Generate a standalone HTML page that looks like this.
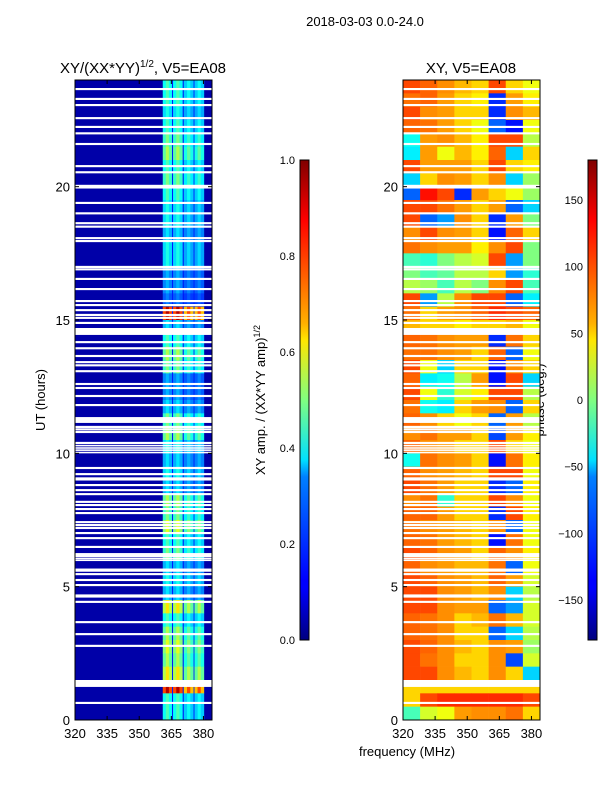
<!DOCTYPE html>
<html><head><meta charset="utf-8">
<style>
body{margin:0;background:#fff;}
svg{display:block;font-family:"Liberation Sans","DejaVu Sans",sans-serif;}
</style></head>
<body>
<svg id="fig" width="600" height="800" viewBox="0 0 600 800">
<defs>
<linearGradient id="jetg" x1="0" y1="1" x2="0" y2="0">
<stop offset="0" stop-color="#00007f"/><stop offset="0.11" stop-color="#0000ff"/>
<stop offset="0.125" stop-color="#0000ff"/><stop offset="0.34" stop-color="#0080ff"/>
<stop offset="0.375" stop-color="#00e0ff"/><stop offset="0.5" stop-color="#80ff80"/>
<stop offset="0.625" stop-color="#ffe600"/><stop offset="0.66" stop-color="#ffb000"/>
<stop offset="0.875" stop-color="#ff0000"/><stop offset="1" stop-color="#800000"/>
</linearGradient>
</defs>
<text x="365" y="26" font-size="13" text-anchor="middle">2018-03-03 0.0-24.0</text>
<text x="143" y="73" font-size="15" text-anchor="middle">XY/(XX*YY)<tspan font-size="10" dy="-6">1/2</tspan><tspan dy="6">, V5=EA08</tspan></text>
<text x="471" y="73" font-size="15" text-anchor="middle">XY, V5=EA08</text>
<text transform="translate(45,400) rotate(-90)" font-size="13" text-anchor="middle">UT (hours)</text>
<text transform="translate(265,400) rotate(-90)" font-size="13" text-anchor="middle">XY amp. / (XX*YY amp)<tspan font-size="9" dy="-5">1/2</tspan></text>
<text transform="translate(544,400) rotate(-90)" font-size="13" text-anchor="middle">phase (deg.)</text>
<text x="407" y="756" font-size="13" text-anchor="middle">frequency (MHz)</text>
<g id="ampPanel"></g>
<g id="phasePanel"></g>
<g id="axes"></g>
<rect x="300" y="160" width="9" height="480" fill="url(#jetg)" stroke="#000" stroke-width="1"/>
<rect x="588" y="160" width="9" height="480" fill="url(#jetg)" stroke="#000" stroke-width="1"/>
</svg>
<script>
// ---- data ----
const freqMin = 320, freqMax = 384;
const xTicks = [320, 335, 350, 365, 380];
const yTicks = [0, 5, 10, 15, 20];
const ampTicks = [0.0, 0.2, 0.4, 0.6, 0.8, 1.0];
const phaseTicks = [-150, -100, -50, 0, 50, 100, 150];
// half-hour rows from 24h (top) down to 0h
const bandAmp = [0.45,0.45,0.4,0.45,0.5,0.55,0.45,0.5,0.45,0.4,0.4,0.35,0.4,0.4,0.3,0.3,0.25,0.95,0.35,0.45,0.55,0.5,0.3,0.3,
0.35,0.5,0.55,0.4,0.35,0.4,0.35,0.55,0.5,0.6,0.45,0.5,0.35,0.4,0.35,0.65,0.45,0.55,0.6,0.55,0.65,0.95,0.45,0.45];
const bands = [[361,365.3],[365.8,370.3],[370.8,375.4],[375.8,380.2]];
const bandMult = [1.0, 1.0, 0.85, 0.85];
const bgAmp = 0.04, gapAmp = 0.15;
// white (flagged) rows: [start hour, end hour]
const blanks = [[23.62,23.7],[23.25,23.33],[23.02,23.1],[22.53,22.61],[22.2,22.28],[21.96,22.04],[21.56,21.64],[20.73,20.81],[20.5,20.58],
[19.93,20.07],[19.35,19.43],[18.96,19.04],[18.59,18.67],[18.46,18.54],[18.03,18.11],[17.92,18.0],[16.95,17.03],[16.86,16.94],[16.5,16.58],
[16.12,16.2],[15.67,15.75],[15.52,15.6],[15.33,15.41],[15.15,15.23],[15.04,15.12],[14.85,14.93],[14.44,14.7],[14.13,14.21],[13.9,13.98],
[13.61,13.69],[13.38,13.46],[13.26,13.34],[13.04,13.12],[12.56,12.64],[12.41,12.49],[12.11,12.19],[11.77,11.85],[11.14,11.36],[10.95,11.03],
[10.86,10.94],[10.76,10.84],[10.35,10.43],[10.26,10.32],[10.17,10.23],[10.09,10.15],[10.0,10.06],[9.41,9.49],[9.18,9.26],[8.98,9.1],
[8.77,8.85],[8.58,8.66],[8.43,8.51],[8.14,8.22],[8.02,8.1],[7.87,7.95],[7.72,7.8],[7.38,7.46],[7.27,7.35],[7.16,7.24],[6.97,7.05],
[6.78,6.86],[6.45,6.53],[6.18,6.26],[6.11,6.19],[6.03,6.09],[5.96,6.02],[5.56,5.68],[5.43,5.51],[5.21,5.29],[5.02,5.1],[4.59,4.71],
[4.39,4.47],[3.63,3.71],[3.18,3.26],[2.74,2.82],[1.24,1.5],[0.6,0.68]];
// phase grid: 48 half-hour rows (24h -> 0h) x 8 columns of 8 MHz
const phaseCols = [320,328,336,344,352,360,368,376];
const phaseRows = [
[110,100,85,70,60,110,60,40],[95,100,80,60,50,-120,80,50],[110,85,80,60,60,-120,85,70],[100,95,80,60,40,-100,-130,40],
[-40,80,85,70,50,110,110,20],[-50,80,40,70,50,100,-60,60],[110,80,80,80,60,110,60,50],[-60,60,85,80,60,85,-60,10],
[-100,130,110,-120,80,60,40,10],[110,110,95,80,60,80,-100,-60],[110,-100,-80,85,60,-120,80,0],[85,110,85,80,60,-130,100,60],
[95,85,80,80,50,85,110,0],[-20,-30,0,20,30,110,-80,0],[0,-20,-10,20,20,60,-80,-30],[20,10,-20,20,0,85,110,-20],
[110,-80,20,85,110,110,-100,-50],[95,60,80,85,100,120,110,100],[70,60,60,50,60,60,70,40],[100,95,85,80,80,-120,95,60],
[95,95,85,80,60,100,-100,40],[110,40,-60,60,60,-130,85,60],[100,-50,-40,20,80,-130,110,-60],[110,40,-30,30,50,110,110,20],
[95,-40,-50,60,80,85,-100,60],[100,85,60,40,60,-100,80,20],[85,95,80,80,60,-110,80,50],[100,85,80,60,60,110,60,40],
[-40,95,85,80,60,-130,95,50],[100,85,80,70,60,110,110,40],[110,95,80,60,60,-120,-100,50],[85,95,-30,60,60,110,85,40],
[100,100,80,60,60,-120,110,50],[95,85,80,70,60,85,-100,40],[100,95,80,70,60,-130,95,40],[110,100,85,80,60,100,85,50],
[100,85,80,70,70,95,-100,40],[110,100,85,80,70,100,80,30],[110,110,85,80,70,85,-60,20],[110,110,85,80,80,-100,-80,30],
[100,95,85,60,70,95,70,30],[100,95,85,60,60,-100,-60,20],[110,100,85,70,60,85,80,10],[110,95,85,60,60,85,-110,30],
[110,110,85,70,60,85,60,-60],[60,60,60,60,60,60,60,60],[60,110,120,120,120,120,120,110],[-20,30,40,80,85,85,95,60]];

// ---- scales ----
const NS = "http://www.w3.org/2000/svg";
const panels = {amp:{x0:75,x1:212}, ph:{x0:403,x1:540}};
const yTop = 80, yBot = 720;
function xs(p, f){ return p.x0 + (f - freqMin) / (freqMax - freqMin) * (p.x1 - p.x0); }
function ys(h){ return yBot - h / 24 * (yBot - yTop); }
function jet(v){
  v = Math.max(0, Math.min(1, v));
  const c = t => Math.round(255 * Math.max(0, Math.min(1, 1.5 - Math.abs(4 * v - t))));
  return `rgb(${c(3)},${c(2)},${c(1)})`;
}
function rect(parent, x, y, w, h, fill){
  const r = document.createElementNS(NS, "rect");
  r.setAttribute("x", x); r.setAttribute("y", y);
  r.setAttribute("width", w); r.setAttribute("height", h);
  r.setAttribute("fill", fill);
  parent.appendChild(r); return r;
}
function line(parent, x1, y1, x2, y2){
  const l = document.createElementNS(NS, "line");
  l.setAttribute("x1", x1); l.setAttribute("y1", y1); l.setAttribute("x2", x2); l.setAttribute("y2", y2);
  l.setAttribute("stroke", "#000"); l.setAttribute("stroke-width", 1);
  parent.appendChild(l); return l;
}
function text(parent, x, y, s, anchor){
  const t = document.createElementNS(NS, "text");
  t.setAttribute("x", x); t.setAttribute("y", y); t.setAttribute("font-size", 13);
  t.setAttribute("text-anchor", anchor); t.textContent = s;
  parent.appendChild(t); return t;
}

// ---- amplitude heatmap ----
const ampG = document.getElementById("ampPanel");
const PA = panels.amp;
const bg = rect(ampG, PA.x0, yTop, PA.x1 - PA.x0, yBot - yTop, jet(bgAmp));


const nRows = bandAmp.length, rowH = 24 / nRows;
bandAmp.forEach((a, i) => {
  const hTop = 24 - i * rowH, hBot = hTop - rowH;
  bands.forEach((b, j) => {
    const w = (b[1] - b[0]) / 3;
    [0.85, 1.0, 0.85].forEach((m, k) => {
      const r = rect(ampG, xs(PA, b[0] + k * w), ys(hTop), xs(PA, b[0] + (k + 1) * w) - xs(PA, b[0] + k * w) + 0.3, ys(hBot) - ys(hTop) + 0.3, jet(a * bandMult[j] * m));
      
      
    });
    if (j < bands.length - 1) {
      const g = rect(ampG, xs(PA, b[1]), ys(hTop), xs(PA, bands[j + 1][0]) - xs(PA, b[1]), ys(hBot) - ys(hTop) + 0.3, jet(gapAmp));
      
      
    }
  });
});

// ---- phase heatmap ----
const phG = document.getElementById("phasePanel");
const PP = panels.ph;
const pRowH = 24 / phaseRows.length;
phaseRows.forEach((row, i) => {
  const hTop = 24 - i * pRowH, hBot = hTop - pRowH;
  row.forEach((p, j) => {
    const f0 = phaseCols[j], f1 = j + 1 < phaseCols.length ? phaseCols[j + 1] : freqMax;
    const r = rect(phG, xs(PP, f0), ys(hTop), xs(PP, f1) - xs(PP, f0) + 0.3, ys(hBot) - ys(hTop) + 0.3, jet((p + 180) / 360));
    
    
  });
});

// ---- flagged rows (both panels) ----
[ampG, phG].forEach((g, gi) => {
  const P = gi === 0 ? PA : PP;
  blanks.forEach(b => {
    const r = rect(g, P.x0, ys(b[1]), P.x1 - P.x0, Math.max(1.5, ys(b[0]) - ys(b[1])), "#fff");
    
    
  });
});

// ---- axes ----
const ax = document.getElementById("axes");
[PA, PP].forEach((P, pi) => {
  const fr = rect(ax, P.x0, yTop, P.x1 - P.x0, yBot - yTop, "none");
  fr.setAttribute("stroke", "#000");
  
  
  xTicks.forEach(f => {
    const x = xs(P, f);
    line(ax, x, yBot, x, yBot - 4); line(ax, x, yTop, x, yTop + 4);
    const t = text(ax, x, yBot + 18, String(f), "middle");
    
    
  });
  yTicks.forEach(h => {
    const y = ys(h);
    line(ax, P.x0, y, P.x0 + 4, y); line(ax, P.x1, y, P.x1 - 4, y);
    const t = text(ax, P.x0 - 5, y + 5, String(h), "end");
    
    
  });
});
ampTicks.forEach(v => {
  const y = 640 - v * 480;
  line(ax, 300, y, 303, y); line(ax, 309, y, 306, y);
  const t = text(ax, 295, y + 4, v.toFixed(1), "end");
  t.setAttribute("font-size", 11);
  
  
});
phaseTicks.forEach(v => {
  const y = 400 - v / 180 * 240;
  line(ax, 588, y, 591, y); line(ax, 597, y, 594, y);
  const t = text(ax, 583, y + 4, v < 0 ? "\u2212" + Math.abs(v) : String(v), "end");
  t.setAttribute("font-size", 11);
  
  
});
</script>
</body></html>
